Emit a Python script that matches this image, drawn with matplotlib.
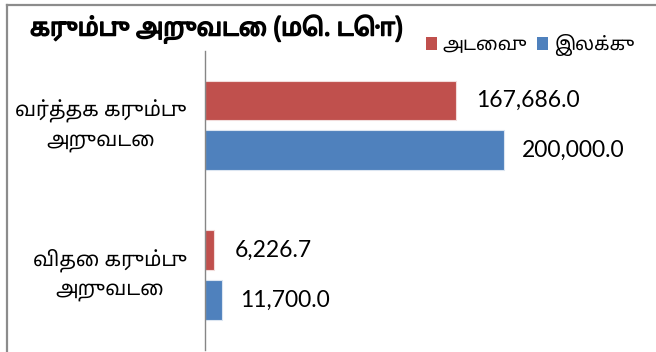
import matplotlib
matplotlib.use('Agg')
import matplotlib.pyplot as plt
import matplotlib.patheffects as pe
from matplotlib.patches import Patch
from matplotlib.lines import Line2D

# Sugarcane harvest: achieved vs target (metric tonnes)
categories = ['வர்த்தக கரும்பு\nஅறுவடை', 'விதை கரும்பு\nஅறுவடை']
achieved = [167686.0, 6226.7]
target = [200000.0, 11700.0]
series_names = ['அடைவு', 'இலக்கு']
title = 'கரும்பு அறுவடை (மெ. டொ)'

RED = '#C0504D'
BLUE = '#4F81BD'
TAMIL = ['Noto Sans Tamil', 'Anek Tamil', 'Lato', 'DejaVu Sans']
NUMS = ['Lato', 'DejaVu Sans']

W, H = 656, 352
fig = plt.figure(figsize=(W / 100, H / 100), dpi=100)

# outer frame (only top and left edges show)
fig.add_artist(Line2D([6.5 / W, 6.5 / W], [0, 1 - 4.5 / H], transform=fig.transFigure,
                      color='#8c8c8c', lw=1.6))
fig.add_artist(Line2D([6.5 / W, 1], [1 - 4.5 / H, 1 - 4.5 / H], transform=fig.transFigure,
                      color='#8c8c8c', lw=1.6))

ax = fig.add_axes([205 / W, 2 / H, 440 / W, 299.5 / H])

y = list(range(len(categories)))
off = 0.1667
bh = 0.265
ax.barh([v - off for v in y], achieved, height=bh, color=RED, edgecolor='#f2dcdb', lw=0.8)
ax.barh([v + off for v in y], target, height=bh, color=BLUE, edgecolor='#dbe5f1', lw=0.8)

for i in y:
    ax.annotate(f'{achieved[i]:,.1f}', xy=(achieved[i], i - off), xytext=(15, 0),
                textcoords='offset points', va='center', ha='left',
                fontsize=16.5, family=NUMS)
    ax.annotate(f'{target[i]:,.1f}', xy=(target[i], i + off), xytext=(13, 0),
                textcoords='offset points', va='center', ha='left',
                fontsize=16.5, family=NUMS)

ax.set_xlim(0, 440 / 299 * 200000)
ax.set_ylim(1.5, -0.5)
ax.set_xticks([])
ax.set_yticks(y)
ax.set_yticklabels(categories, family=TAMIL, fontsize=14.5, ha='right', va='center',
                   multialignment='center', linespacing=1.5)
ax.tick_params(axis='y', length=0, pad=13)
for side in ['top', 'right', 'bottom']:
    ax.spines[side].set_visible(False)
ax.spines['left'].set_color('#868686')
ax.spines['left'].set_linewidth(1.0)

fig.text(30 / W, 1 - 29 / H, title, family=TAMIL, fontsize=17.5,
         ha='left', va='center',
         path_effects=[pe.withStroke(linewidth=1.1, foreground='black')])

handles = [Patch(facecolor=RED, edgecolor='none'), Patch(facecolor=BLUE, edgecolor='none')]
fig.legend(handles, series_names, loc='center left', bbox_to_anchor=(426 / W, 1 - 45 / H),
           ncol=2, frameon=False, prop={'family': TAMIL, 'size': 13.5},
           handlelength=0.6, handleheight=0.75, handletextpad=0.3, columnspacing=0.5,
           borderpad=0, borderaxespad=0)

fig.savefig('out.png', dpi=100)
